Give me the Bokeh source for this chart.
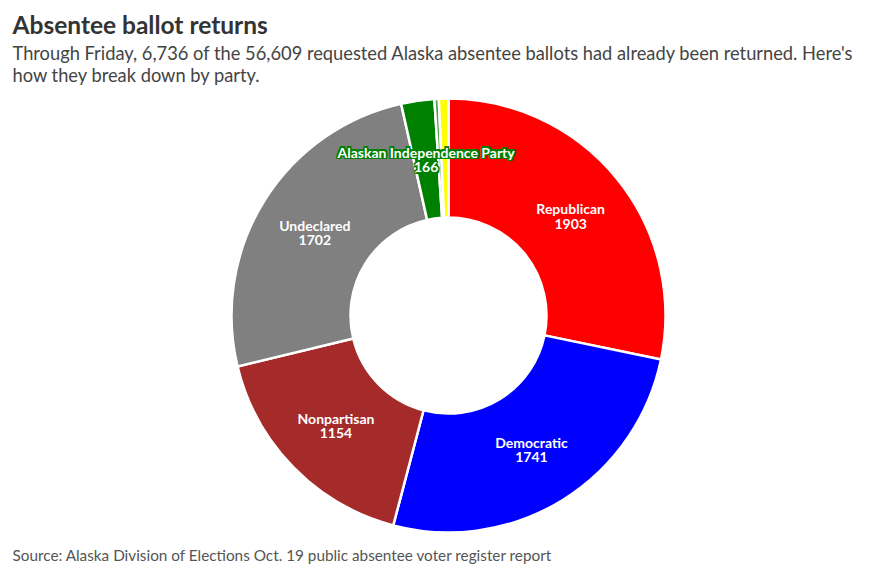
import math
from bokeh.plotting import figure
from bokeh.models import Range1d, ColumnDataSource
from bokeh.core.properties import value
from bokeh.embed import file_html
from bokeh.resources import INLINE

parties = ["Republican", "Democratic", "Nonpartisan", "Undeclared",
           "Alaskan Independence Party", "Green", "Libertarian"]
returns = [1903, 1741, 1154, 1702, 166, 22, 48]
colors = ["#ff0000", "#0000ff", "#a52a2a", "#808080", "#008000", "#4f9f4f", "#ffff00"]
show_label = [True, True, True, True, True, False, False]

title = "Absentee ballot returns"
subtitle1 = "Through Friday, 6,736 of the 56,609 requested Alaska absentee ballots had already been returned. Here's"
subtitle2 = "how they break down by party."
source_note = "Source: Alaska Division of Elections Oct. 19 public absentee voter register report"

W, H = 874, 567
FONT = "Lato"

p = figure(width=W, height=H, output_backend="svg", toolbar_location=None,
           x_range=Range1d(0, W), y_range=Range1d(0, H), min_border=0)
p.axis.visible = False
p.grid.visible = False
p.outline_line_color = None
p.background_fill_color = "white"

cx, cy = 448, H - 315
r_in, r_out = 98, 217

total = sum(returns)
starts, ends, lx, ly = [], [], [], []
cum = 0.0
for v in returns:
    f0 = cum / total
    cum += v
    f1 = cum / total
    a_start = math.pi / 2 - 2 * math.pi * f1
    a_end = math.pi / 2 - 2 * math.pi * f0
    starts.append(a_start)
    ends.append(a_end)
    mid = (a_start + a_end) / 2
    rm = (r_in + r_out) / 2
    lx.append(cx + rm * math.cos(mid))
    ly.append(cy + rm * math.sin(mid))

src = ColumnDataSource(dict(start=starts, end=ends, color=colors))
p.annular_wedge(x=cx, y=cy, inner_radius=r_in, outer_radius=r_out,
                start_angle="start", end_angle="end", source=src,
                fill_color="color", line_color="white", line_width=2.5)

lab = ColumnDataSource(dict(
    x=[lx[i] for i in range(len(parties)) if show_label[i]],
    y=[ly[i] for i in range(len(parties)) if show_label[i]],
    t=[f"{parties[i]}\n{returns[i]}" for i in range(len(parties)) if show_label[i]],
    c=[colors[i] for i in range(len(parties)) if show_label[i]],
))
# halo
for dx in (-1.5, 0, 1.5):
    for dy in (-1.5, 0, 1.5):
        if dx == 0 and dy == 0:
            continue
        p.text(x="x", y="y", text="t", source=lab, x_offset=dx, y_offset=dy,
               text_color="c", text_font=value(FONT), text_font_style="bold",
               text_font_size="14px", text_align="center", text_baseline="middle",
               text_line_height=0.85)
p.text(x="x", y="y", text="t", source=lab, text_color="white",
       text_font=value(FONT), text_font_style="bold", text_font_size="14px",
       text_align="center", text_baseline="middle", text_line_height=0.85)

p.text(x=[12], y=[H - 9], text=[title], text_font=value(FONT), text_font_style="bold",
       text_font_size="24.5px", text_color="#333333", text_baseline="top")
p.text(x=[12], y=[H - 41], text=[subtitle1], text_font=value(FONT),
       text_font_size="18.3px", text_color="#444444", text_baseline="top")
p.text(x=[12], y=[H - 63], text=[subtitle2], text_font=value(FONT),
       text_font_size="18.3px", text_color="#444444", text_baseline="top")
p.text(x=[12], y=[H - 554], text=[source_note], text_font=value(FONT),
       text_font_size="15.3px", text_color="#555555", text_baseline="middle")

open("out.html", "w").write(file_html(p, INLINE))
